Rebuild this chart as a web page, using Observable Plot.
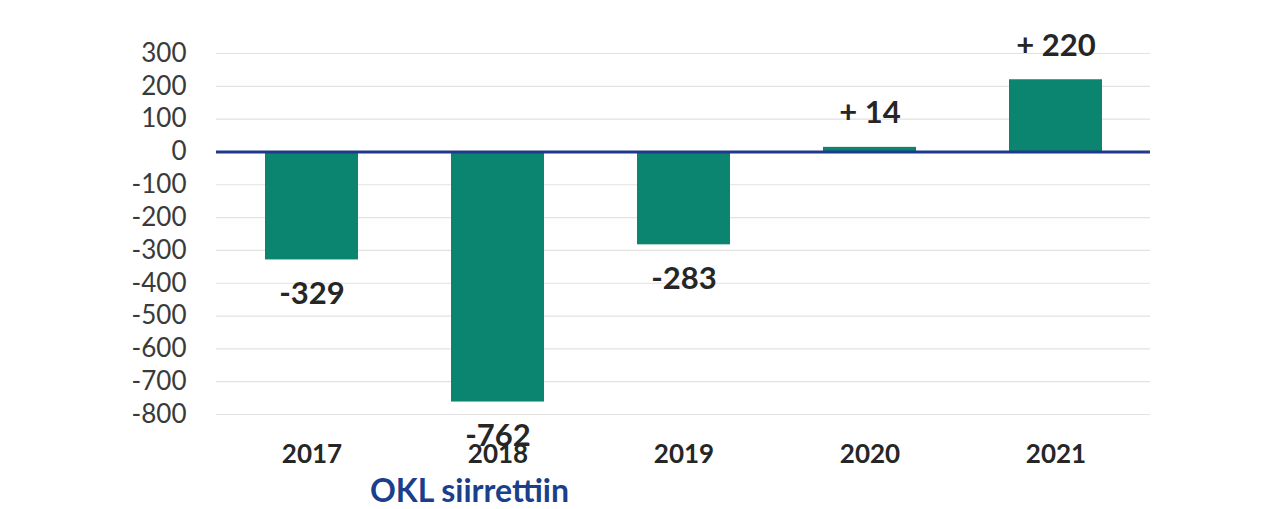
<!DOCTYPE html>
<html>
<head>
<meta charset="utf-8">
<script src="https://cdn.jsdelivr.net/npm/d3@7"></script>
<script src="https://cdn.jsdelivr.net/npm/@observablehq/plot@0.6"></script>
<style>
  html, body { margin: 0; padding: 0; background: #fff; }
  #chart { width: 1274px; }
  #caption { font-family: Lato, "Open Sans", sans-serif; font-weight: 700; font-size: 32px; color: #1c3f8c; margin-left: 370px; line-height: 40px; }
</style>
</head>
<body>
<div id="chart"></div>
<div id="caption">OKL siirrettiin</div>
<script>
const years = ["2017", "2018", "2019", "2020", "2021"];
const values = [-329, -762, -283, 14, 220];
const labels = ["-329", "-762", "-283", "+ 14", "+ 220"];
const yTicks = [300, 200, 100, 0, -100, -200, -300, -400, -500, -600, -700, -800];

const data = years.map((y, i) => ({year: y, value: values[i], label: labels[i]}));

const chart = Plot.plot({
  width: 1274,
  height: 470,
  marginTop: 53,
  marginBottom: 56,
  marginLeft: 216,
  marginRight: 124,
  style: {fontFamily: "Lato, 'Open Sans', sans-serif", background: "#fff"},
  x: {domain: years, paddingInner: 0.5, paddingOuter: 0.25, label: null, tickSize: 0, tickPadding: 30},
  y: {domain: [-800, 300], ticks: yTicks, label: null, tickSize: 0, tickPadding: 30},
  marks: [
    Plot.gridY(yTicks, {stroke: "#e2e2e2", strokeOpacity: 1, strokeWidth: 1.2}),
    Plot.barY(data, {x: "year", y: "value", fill: "#0b8570"}),
    Plot.ruleY([0], {stroke: "#1f3a8a", strokeWidth: 3}),
    Plot.axisY({ticks: yTicks, tickSize: 0, tickPadding: 30, fontSize: 26, fill: "#3a3a3a", label: null, tickFormat: d => String(d)}),
    Plot.axisX({tickSize: 0, tickPadding: 30, fontSize: 26, fontWeight: 700, fill: "#262626", label: null}),
    Plot.text(data.filter(d => d.value < 0), {x: "year", y: "value", text: "label", dy: 34, fontSize: 31, fontWeight: 700, fill: "#262626"}),
    Plot.text(data.filter(d => d.value >= 0), {x: "year", y: "value", text: "label", dy: -34, fontSize: 31, fontWeight: 700, fill: "#262626"})
  ]
});
document.getElementById("chart").appendChild(chart);
</script>
</body>
</html>
